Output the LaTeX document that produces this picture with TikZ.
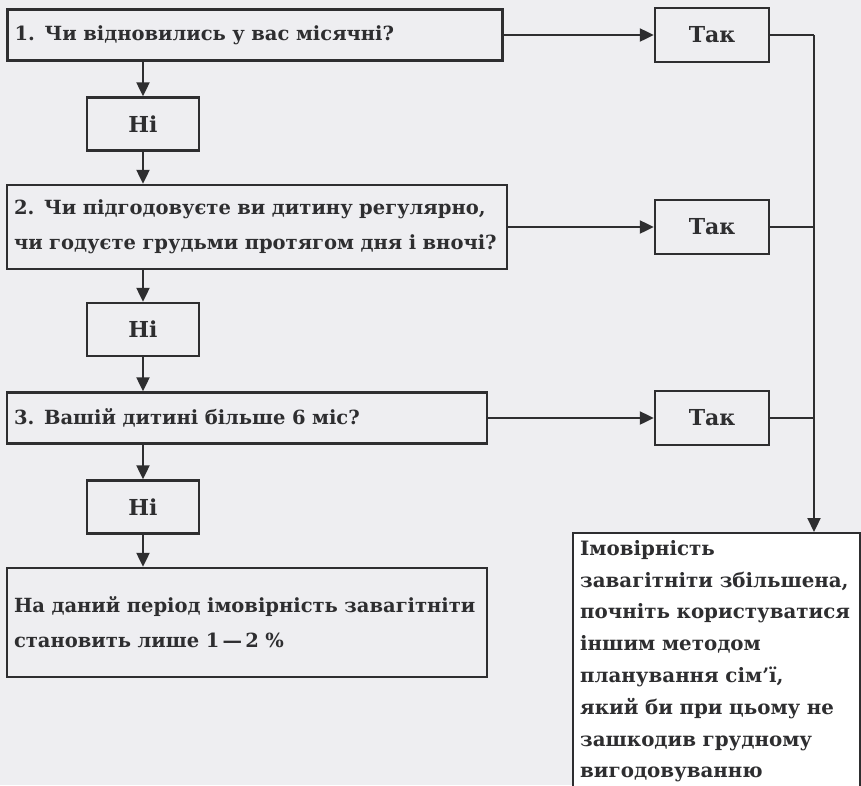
\documentclass[tikz,border=0pt]{standalone}
\usepackage{fontspec}
\setmainfont{DejaVu Serif}
\usetikzlibrary{arrows.meta}
\definecolor{paper}{HTML}{EEEEF1}
\definecolor{ink}{HTML}{2E2E30}
\tikzset{
  box/.style={draw=ink, line width=2.4pt, fill=paper, text=ink, font=\bfseries\fontsize{19.5}{35}\selectfont,
    inner xsep=7pt, inner ysep=0pt, align=left},
  nibox/.style={box, align=center, minimum width=112pt, minimum height=53pt, text width=96pt, font=\bfseries\fontsize{22}{26}\selectfont},
  takbox/.style={box, align=center, minimum width=114pt, minimum height=54pt, text width=98pt, font=\bfseries\fontsize{22}{26}\selectfont},
  conn/.style={draw=ink, line width=2.2pt},
  arr/.style={conn, -{Triangle[length=14pt,width=13pt]}}
}
\begin{document}
\begin{tikzpicture}[x=1pt,y=-1pt]
\useasboundingbox (0,0) rectangle (861,785);
\clip (0,0) rectangle (861,785);
\fill[paper] (0,0) rectangle (861,785);
% questions
\node[box, minimum width=495pt, minimum height=51pt, text width=481pt] (q1) at (255,35) {1. Чи відновились у вас місячні?};
\node[box, minimum width=500pt, minimum height=84pt, text width=486pt] (q2) at (257,227) {2. Чи підгодовуєте ви дитину регулярно,\\чи годуєте грудьми протягом дня і вночі?};
\node[box, minimum width=480pt, minimum height=51pt, text width=466pt] (q3) at (247,418) {3. Вашій дитині більше 6 міс?};
\node[box, minimum width=480pt, minimum height=109pt, text width=466pt] (res) at (247,622.5) {На даний період імовірність завагітніти\\становить лише 1\,—\,2 \%};
% no boxes
\node[nibox] (n1) at (143,124) {Ні};
\node[nibox] (n2) at (143,329.5) {Ні};
\node[nibox] (n3) at (143,507) {Ні};
% yes boxes
\node[takbox] (t1) at (712,35) {Так};
\node[takbox] (t2) at (712,227) {Так};
\node[takbox] (t3) at (712,418) {Так};
% right result
\node[box, fill=white, anchor=north west, minimum width=287pt, text width=273pt,
  inner ysep=7pt, font=\bfseries\fontsize{19.8}{31.8}\selectfont, align=left] (r) at (572,532)
  {Імовірність\\завагітніти збільшена,\\почніть користуватися\\іншим методом\\планування сім'ї,\\який би при цьому не\\зашкодив грудному\\вигодовуванню};
\coordinate (bus) at (814,35);
% vertical flow
\draw[arr] (n1.north |- q1.south) -- (n1.north);
\draw[arr] (n1.south) -- (n1.south |- q2.north);
\draw[arr] (n2.north |- q2.south) -- (n2.north);
\draw[arr] (n2.south) -- (n2.south |- q3.north);
\draw[arr] (n3.north |- q3.south) -- (n3.north);
\draw[arr] (n3.south) -- (n3.south |- res.north);
% horizontal
\draw[arr] (q1.east) -- (t1.west);
\draw[arr] (q2.east) -- (t2.west);
\draw[arr] (q3.east) -- (t3.west);
\draw[conn] (t1.east) -- (bus);
\draw[arr] (bus) -- (bus |- r.north);
\draw[conn] (t2.east) -- (t2.east -| bus);
\draw[conn] (t3.east) -- (t3.east -| bus);
\end{tikzpicture}
\end{document}
